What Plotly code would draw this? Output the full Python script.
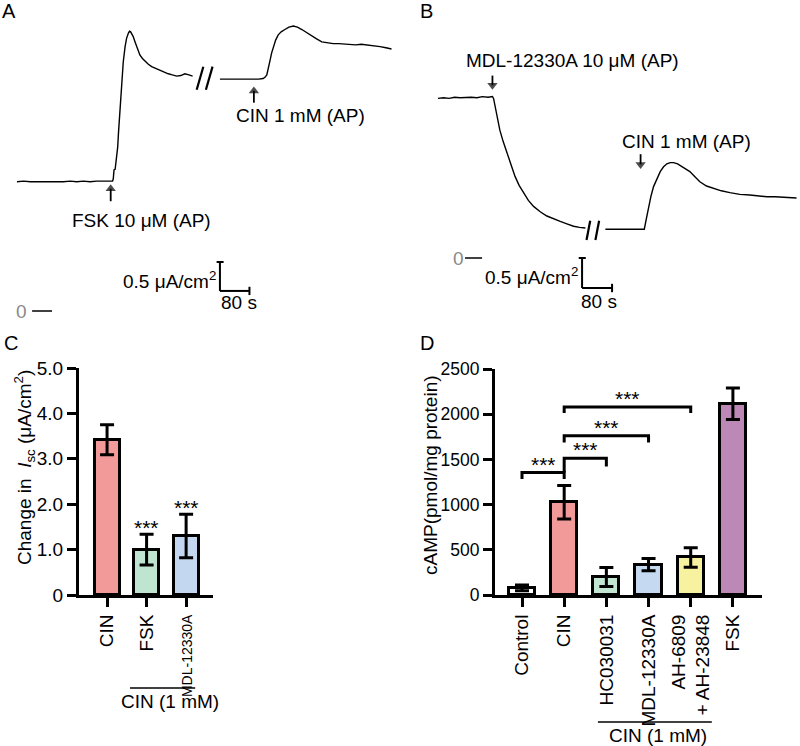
import plotly.graph_objects as go

FONT = "Arial, Liberation Sans, sans-serif"

# ---------------- Panel A trace (time s, Isc uA/cm2) ----------------
a1_t = [0, 18, 36, 54, 72, 90, 108, 126, 144, 162, 180, 198, 216, 234, 250, 259, 261, 263, 266, 268, 270, 273, 275,
        279, 284, 288, 293, 297, 302, 305, 308, 311, 315, 320, 324, 328, 333, 340, 347, 356, 365, 376, 388, 399, 410,
        421, 433, 444, 455, 466, 476]
a1_i = [2.19, 2.20, 2.19, 2.19, 2.18, 2.18, 2.19, 2.19, 2.20, 2.19, 2.20, 2.19, 2.20, 2.20, 2.21, 2.20, 2.24, 2.39,
        2.40, 2.52, 2.56, 2.78, 3.01, 3.45, 3.86, 4.22, 4.48, 4.62, 4.71, 4.74, 4.73, 4.70, 4.65, 4.56, 4.48, 4.42,
        4.34, 4.28, 4.23, 4.18, 4.14, 4.11, 4.07, 4.05, 4.02, 4.00, 3.98, 3.99, 4.02, 4.00, 3.98]
a2_t = [550, 565, 580, 595, 610, 625, 640, 655, 667, 672, 677, 682, 686, 690, 695, 701, 708, 716, 726, 737, 749, 760,
        772, 786, 799, 812, 826, 841, 857, 872, 887, 902, 918, 933, 948, 966, 984, 1000, 1015]
a2_i = [3.93, 3.93, 3.92, 3.93, 3.93, 3.92, 3.93, 3.93, 3.94, 3.96, 4.00, 4.12, 4.25, 4.37, 4.48, 4.59, 4.68, 4.73,
        4.77, 4.81, 4.83, 4.81, 4.77, 4.71, 4.66, 4.61, 4.56, 4.54, 4.53, 4.53, 4.52, 4.52, 4.51, 4.52, 4.51, 4.50,
        4.48, 4.46, 4.44]

# ---------------- Panel B trace ----------------
b1_t = [0, 15, 30, 45, 60, 75, 90, 105, 120, 135, 147, 150, 154, 160, 167, 176, 186, 197, 208, 219, 231, 244, 258,
        276, 294, 312, 330, 348, 366, 382, 398]
b1_i = [2.66, 2.67, 2.66, 2.68, 2.67, 2.68, 2.68, 2.67, 2.69, 2.68, 2.69, 2.66, 2.52, 2.33, 2.13, 1.94, 1.75, 1.55,
        1.36, 1.21, 1.08, 0.96, 0.86, 0.77, 0.70, 0.65, 0.61, 0.57, 0.53, 0.51, 0.50]
b2_t = [452, 467, 482, 497, 512, 527, 542, 557, 563, 569, 575, 582, 591, 600, 609, 618, 627, 636, 647, 658, 669, 680,
        693, 707, 725, 743, 765, 788, 815, 842, 865, 888, 910, 932, 950, 968]
b2_i = [0.48, 0.48, 0.49, 0.48, 0.48, 0.49, 0.48, 0.48, 0.67, 0.86, 1.03, 1.19, 1.33, 1.44, 1.52, 1.57, 1.59, 1.59,
        1.57, 1.53, 1.49, 1.44, 1.36, 1.27, 1.20, 1.16, 1.12, 1.09, 1.06, 1.05, 1.03, 1.02, 1.02, 1.01, 1.00, 1.00]

# drug-addition arrows: (panel, time, tail level, head level)
arrows = [("A", 254, 1.86, 2.07), ("A", 642, 3.53, 3.73), ("B", 147, 3.04, 2.88), ("B", 547, 1.73, 1.56)]

# ---------------- Panel C ----------------
c_labels = ["CIN", "FSK", "MDL-12330A"]
c_vals = [3.42, 1.00, 1.30]
c_err = [0.33, 0.34, 0.48]
c_colors = ["#F29A9A", "#BFE4CF", "#C3D8F0"]
c_sig = ["", "***", "***"]
c_yticks = [0, 1, 2, 3, 4, 5]
c_yticktext = ["0", "1.0", "2.0", "3.0", "4.0", "5.0"]

# ---------------- Panel D ----------------
d_labels = ["Control", "CIN", "HC030031", "MDL-12330A", "AH-6809<br>+ AH-23848", "FSK"]
d_vals = [80, 1025, 200, 335, 415, 2115]
d_err = [32, 185, 105, 68, 108, 175]
d_colors = ["#FFFFFF", "#F29A9A", "#C3E6D3", "#C5D9F0", "#F6F2A0", "#BC89B7"]
d_yticks = [0, 500, 1000, 1500, 2000, 2500]
# brackets: (left idx, right idx, height, left leg bottom, right leg bottom)
d_brackets = [(0, 1, 1355, 1282, 1282), (1, 2, 1514, 1355, 1422), (1, 3, 1761, 1688, 1688), (1, 4, 2079, 2013, 2013)]

fig = go.Figure()

line_style = dict(color="black", width=1.4)
for t, i, ax in [(a1_t, a1_i, "1"), (a2_t, a2_i, "1"), (b1_t, b1_i, "2"), (b2_t, b2_i, "2")]:
    fig.add_trace(go.Scatter(x=t, y=i, mode="lines", line=line_style, showlegend=False, hoverinfo="skip",
                             xaxis="x" if ax == "1" else "x2", yaxis="y" if ax == "1" else "y2"))

for panel, t, y0, y1 in arrows:
    up = y1 > y0
    fig.add_trace(go.Scatter(x=[t, t], y=[y0, y1], mode="lines+markers", showlegend=False, hoverinfo="skip",
                             line=dict(color="black", width=1.8),
                             marker=dict(size=[0, 9], color="black", line=dict(width=0),
                                         symbol="triangle-up" if up else "triangle-down"),
                             xaxis="x" if panel == "A" else "x2", yaxis="y" if panel == "A" else "y2"))

fig.add_trace(go.Bar(x=[0, 1, 2], y=c_vals, width=0.63, marker=dict(color=c_colors, line=dict(color="black", width=3)),
                     error_y=dict(type="data", array=c_err, color="black", thickness=3, width=7),
                     xaxis="x3", yaxis="y3", showlegend=False))
fig.add_trace(go.Bar(x=list(range(6)), y=d_vals, width=0.62,
                     marker=dict(color=d_colors, line=dict(color="black", width=3)),
                     error_y=dict(type="data", array=d_err, color="black", thickness=3, width=7),
                     xaxis="x4", yaxis="y4", showlegend=False))

shapes = []
ann = []
TS = 19


def seg(xr, yr, x0, y0, x1, y1, w=2):
    shapes.append(dict(type="line", xref=xr, yref=yr, x0=x0, y0=y0, x1=x1, y1=y1, line=dict(color="black", width=w)))


def txt(xr, yr, x, y, s, size=TS, xa="center", ya="middle", color="black", angle=0):
    ann.append(dict(xref=xr, yref=yr, x=x, y=y, text=s, showarrow=False, xanchor=xa, yanchor=ya, textangle=angle,
                    font=dict(family=FONT, size=size, color=color)))


# ---- Panel A annotations ----
txt("x", "y", 338, 1.54, "FSK 10 μM (AP)")
txt("x", "y", 767, 3.32, "CIN 1 mM (AP)")
seg("x", "y", 487, 3.75, 505, 4.14, 2.2)
seg("x", "y", 512, 3.75, 530, 4.14, 2.2)
# scale bar
seg("x", "y", 550, 0.34, 550, 0.83)
seg("x", "y", 550, 0.34, 630, 0.34)
seg("x", "y", 541, 0.83, 560, 0.83)
seg("x", "y", 630, 0.27, 630, 0.41)
txt("x", "y", 546, 0.52, "0.5 μA/cm<sup>2</sup>", xa="right")
txt("x", "y", 603, 0.15, "80 s")
txt("x", "y", 12, 0.0, "0", color="#8a8a8a")
seg("x", "y", 41, 0.0, 95, 0.0, 1.5)

# ---- Panel B annotations ----
txt("x2", "y2", 363, 3.29, "MDL-12330A 10 μM (AP)")
txt("x2", "y2", 670, 1.95, "CIN 1 mM (AP)")
seg("x2", "y2", 401, 0.30, 411, 0.62, 2.2)
seg("x2", "y2", 425, 0.30, 435, 0.62, 2.2)
seg("x2", "y2", 389, -0.5, 389, 0.0)
seg("x2", "y2", 389, -0.5, 470, -0.5)
seg("x2", "y2", 380, 0.0, 399, 0.0)
seg("x2", "y2", 470, -0.57, 470, -0.43)
txt("x2", "y2", 384, -0.30, "0.5 μA/cm<sup>2</sup>", xa="right")
txt("x2", "y2", 435, -0.73, "80 s")
txt("x2", "y2", 56, 0.0, "0", color="#8a8a8a")
seg("x2", "y2", 73, 0.0, 119, 0.0, 1.5)

# ---- Panel C annotations ----
for k, s in enumerate(c_sig):
    if s:
        txt("x3", "y3", k, c_vals[k] + c_err[k], s, size=21, ya="bottom")
        ann[-1]["yshift"] = -7
shapes.append(dict(type="line", xref="x3", yref="paper", x0=0.58, x1=2.23, y0=1 - 688 / 746, y1=1 - 688 / 746,
                   line=dict(color="black", width=1.5)))
txt("paper", "paper", 170 / 800, 1 - 701 / 746, "CIN (1 mM)")
txt("paper", "paper", 24 / 800, 1 - 468 / 746, "Change in  <i>I</i><sub>sc</sub> (μA/cm<sup>2</sup>)", angle=-90)

# ---- Panel D annotations ----
for (i, j, h, dl, dr) in d_brackets:
    shapes.append(dict(type="path", xref="x4", yref="y4", path=f"M {i},{dl} L {i},{h} L {j},{h} L {j},{dr}",
                       line=dict(color="black", width=3)))
    txt("x4", "y4", (i + j) / 2, h, "***", size=21, ya="bottom")
    ann[-1]["yshift"] = -5
shapes.append(dict(type="line", xref="x4", yref="paper", x0=1.80, x1=4.50, y0=1 - 722 / 746, y1=1 - 722 / 746,
                   line=dict(color="black", width=1.5)))
txt("paper", "paper", 658 / 800, 1 - 735 / 746, "CIN (1 mM)")
txt("paper", "paper", 430 / 800, 1 - 475 / 746, "cAMP(pmol/mg protein)", angle=-90)

# panel letters
for s, px, py in [("A", 9, 11), ("B", 427, 11), ("C", 11, 343), ("D", 427, 343)]:
    txt("paper", "paper", px / 800, 1 - py / 746, s, size=20)

hidden = dict(visible=False, showgrid=False, zeroline=False, automargin=False)
tickfont = dict(family=FONT, size=19, color="black")
common = dict(showline=True, linewidth=3, linecolor="black", ticks="outside", ticklen=9, tickwidth=3,
              tickcolor="black", showgrid=False, zeroline=False, automargin=False)
bar_x = dict(tickangle=-90, tickfont=tickfont, **common)

c_ticktext = [c_labels[0], c_labels[1], '<span style="font-size:14px">' + c_labels[2] + "</span>"]

fig.update_layout(
    template="none",
    width=800, height=746, margin=dict(l=0, r=0, t=0, b=0, pad=0), autosize=False,
    paper_bgcolor="white", plot_bgcolor="white", bargap=0,
    font=dict(family=FONT, color="black"),
    xaxis=dict(domain=[0, 0.5], range=[-46, 1038], **hidden),
    yaxis=dict(domain=[1 - 330 / 746, 1], range=[-0.322, 5.27], **hidden),
    xaxis2=dict(domain=[0.5, 1], range=[-102.6, 977.4], **hidden),
    yaxis2=dict(domain=[1 - 330 / 746, 1], range=[-1.2, 4.3], **hidden),
    xaxis3=dict(domain=[79 / 800, 213 / 800], range=[-0.71, 2.68], tickvals=[0, 1, 2], ticktext=c_ticktext,
                anchor="y3", **bar_x),
    yaxis3=dict(domain=[1 - 595 / 746, 1 - 368 / 746], range=[0, 5], tickvals=c_yticks, ticktext=c_yticktext,
                anchor="x3", tickfont=tickfont, **common),
    xaxis4=dict(domain=[495 / 800, 762 / 800], range=[-0.64, 5.69], tickvals=list(range(6)), ticktext=d_labels,
                anchor="y4", **bar_x),
    yaxis4=dict(domain=[1 - 595 / 746, 1 - 369 / 746], range=[0, 2500], tickvals=d_yticks, anchor="x4",
                tickfont=dict(family=FONT, size=17.5, color="black"), **common),
    shapes=shapes, annotations=ann,
)

fig.write_html("out.html", config={"displayModeBar": False},
               post_script="document.body.style.margin='0';document.body.style.overflow='hidden';")
